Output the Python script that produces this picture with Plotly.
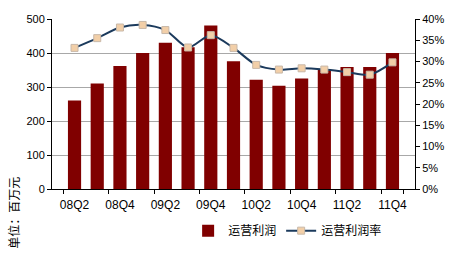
import plotly.graph_objects as go

quarters = ["08Q2", "08Q3", "08Q4", "09Q1", "09Q2", "09Q3", "09Q4", "10Q1",
            "10Q2", "10Q3", "10Q4", "11Q1", "11Q2", "11Q3", "11Q4"]
profit = [260, 310, 362, 400, 430, 417, 481, 376, 321, 304, 325, 352, 359, 359, 400]
margin = [33.2, 35.5, 38.0, 38.6, 37.4, 33.3, 36.2, 33.2, 29.2, 28.1, 28.4, 28.1, 27.5, 26.9, 29.8]
tick_labels = quarters[::2]

font_cn = "Noto Sans CJK SC, Liberation Sans, Arial, sans-serif"
font_num = "Liberation Sans, Arial, sans-serif"

fig = go.Figure()
fig.add_trace(go.Bar(
    x=quarters, y=profit, name="运营利润",
    marker=dict(color="#800000", line=dict(width=0)),
))
fig.add_trace(go.Scatter(
    x=quarters, y=margin, name="运营利润率", yaxis="y2",
    mode="lines+markers",
    line=dict(color="#1B3A5C", width=2, shape="spline", smoothing=0.8),
    marker=dict(symbol="square", size=7, color="#F2CFA8",
                line=dict(color="#C8B8A8", width=1)),
))

fig.update_layout(
    width=456, height=257,
    margin=dict(l=52, r=30, t=19, b=65),
    paper_bgcolor="white", plot_bgcolor="white",
    bargap=0.42,
    showlegend=True,
    legend=dict(orientation="h", x=0.375, y=-0.245, xanchor="left", yanchor="middle",
                font=dict(family=font_cn, size=12, color="#000"),
                bgcolor="rgba(0,0,0,0)", itemwidth=30, tracegroupgap=0),
    xaxis=dict(
        type="category", tickmode="array", tickvals=tick_labels, ticktext=tick_labels,
        tickangle=0, ticklabelstandoff=5,
        showline=True, linecolor="#000", linewidth=1,
        ticks="outside", ticklen=4, tickcolor="#000", tickson="boundaries",
        showgrid=False,
        tickfont=dict(family=font_num, size=12, color="#000"),
    ),
    yaxis=dict(
        range=[0, 500], tickvals=[0, 100, 200, 300, 400, 500],
        showline=True, linecolor="#000", linewidth=1,
        ticks="outside", ticklen=4, tickcolor="#000",
        showgrid=True, gridcolor="#A8A8A8", gridwidth=1,
        zeroline=False,
        tickfont=dict(family=font_num, size=11, color="#000"),
    ),
    yaxis2=dict(
        range=[0, 40], overlaying="y", side="right",
        tickvals=[0, 5, 10, 15, 20, 25, 30, 35, 40],
        ticktext=["0%", "5%", "10%", "15%", "20%", "25%", "30%", "35%", "40%"],
        showline=True, linecolor="#000", linewidth=1,
        ticks="outside", ticklen=4, tickcolor="#000",
        showgrid=False, zeroline=False,
        tickfont=dict(family=font_num, size=11, color="#000"),
    ),
    annotations=[dict(
        text="单位：百万元", xref="paper", yref="paper",
        x=-0.105, y=-0.14, xanchor="center", yanchor="middle",
        textangle=-90, showarrow=False,
        font=dict(family=font_cn, size=12, color="#000"),
    )],
)

fig.write_html("out.html")
